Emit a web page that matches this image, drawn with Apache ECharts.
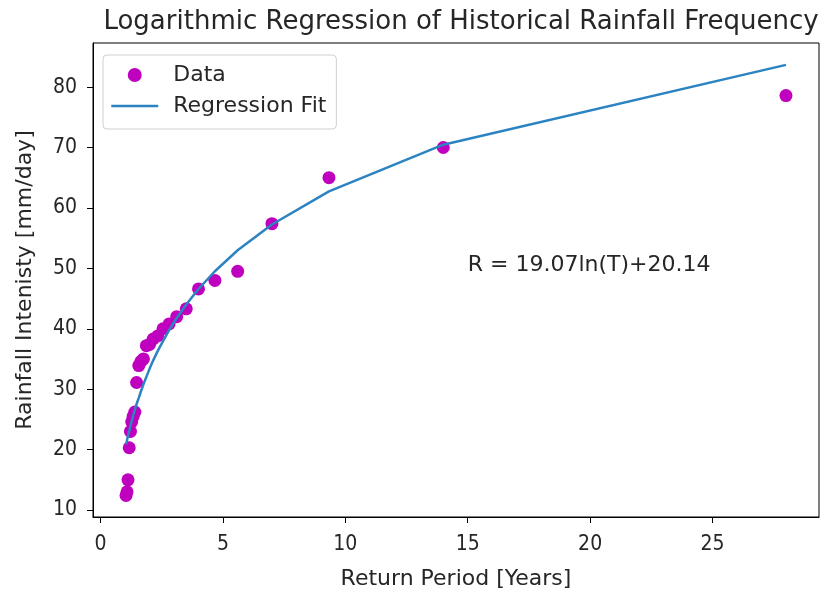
<!DOCTYPE html>
<html>
<head>
<meta charset="utf-8">
<title>Logarithmic Regression</title>
<script src="https://cdn.jsdelivr.net/npm/echarts@6/dist/echarts.min.js"></script>
<style>
  html, body { margin: 0; padding: 0; background: #fff; }
  #chart { width: 821px; height: 590px; }
</style>
</head>
<body>
<div id="chart"></div>
<script>
// return periods T = (n+1)/m, and observed intensities (mm/day)
var returnPeriod = [1.04, 1.08, 1.12, 1.17, 1.22, 1.27, 1.33, 1.40, 1.47, 1.56,
                    1.65, 1.75, 1.87, 2.00, 2.15, 2.33, 2.55, 2.80, 3.11, 3.50,
                    4.00, 4.67, 5.60, 7.00, 9.33, 14.0, 28.0];
var rainfall = [12.4, 13.0, 15.0, 20.3, 23.0, 24.6, 25.5, 26.2, 31.1, 33.9,
                34.6, 35.0, 37.2, 37.4, 38.3, 38.8, 40.0, 40.8, 42.0, 43.3,
                46.6, 48.0, 49.5, 57.4, 65.0, 70.0, 78.6];
// fitted values
var fitted = [20.83, 21.55, 22.30, 23.08, 23.89, 24.74, 25.63, 26.56, 27.54, 28.56,
              29.66, 30.81, 32.04, 33.36, 34.77, 36.30, 37.96, 39.77, 41.78, 44.03,
              46.58, 49.52, 52.99, 57.25, 62.73, 70.47, 83.68];
var xTicks = [0, 5, 10, 15, 20, 25];
var yTicks = [10, 20, 30, 40, 50, 60, 70, 80];
var eqnText = 'R = 19.07ln(T)+20.14';
var eqnPos = [15, 50];

var font = 'DejaVu Sans';
var tickFont = 'DejaVu Sans Condensed';
var ink = '#262626';
var lineColor = '#2b83c2';

var pts = [], fit = [];
for (var i = 0; i < returnPeriod.length; i++) {
  pts.push([returnPeriod[i], rainfall[i]]);
  fit.push([returnPeriod[i], fitted[i]]);
}

var myChart = echarts.init(document.getElementById('chart'));

var option = {
  animation: false,
  title: {
    text: 'Logarithmic Regression of Historical Rainfall Frequency',
    left: 456,
    textAlign: 'center',
    top: 4,
    textStyle: { fontFamily: font, fontSize: 26, fontWeight: 'normal', color: ink }
  },
  legend: {
    orient: 'vertical',
    left: 103,
    top: 55,
    padding: [9, 10, 12, 7],
    itemGap: 9,
    itemWidth: 47,
    itemHeight: 14,
    borderColor: '#d0d0d0',
    borderWidth: 1,
    borderRadius: 4,
    data: [
      { name: 'Data' },
      {
        name: 'Regression Fit',
        itemStyle: { color: 'rgba(0,0,0,0)', borderColor: 'rgba(0,0,0,0)', opacity: 0 },
        lineStyle: { color: lineColor, width: 2.5 }
      }
    ],
    textStyle: { fontFamily: font, fontSize: 22, color: ink, padding: [0, 0, 0, 10] }
  },
  grid: {
    left: 93,
    right: 2,
    top: 43,
    bottom: 73,
    outerBoundsMode: 'none',
    show: true,
    borderColor: '#000',
    borderWidth: 1
  },
  xAxis: {
    type: 'value',
    min: -0.31,
    max: 29.35,
    name: 'Return Period [Years]',
    nameLocation: 'middle',
    nameGap: 51,
    nameTextStyle: { fontFamily: font, fontSize: 22, color: ink },
    splitLine: { show: false },
    axisLine: { show: true, onZero: false, lineStyle: { color: '#000' } },
    axisTick: { show: true, length: 6, customValues: xTicks, lineStyle: { color: '#000' } },
    axisLabel: {
      customValues: xTicks,
      fontFamily: tickFont, fontSize: 21, color: ink, margin: 17
    }
  },
  yAxis: {
    type: 'value',
    min: 8.84,
    max: 87.3,
    name: 'Rainfall Intenisty [mm/day]',
    nameLocation: 'middle',
    nameGap: 57,
    nameTextStyle: { fontFamily: font, fontSize: 22, color: ink },
    splitLine: { show: false },
    axisLine: { show: true, onZero: false, lineStyle: { color: '#000' } },
    axisTick: { show: true, length: 6, customValues: yTicks, lineStyle: { color: '#000' } },
    axisLabel: {
      customValues: yTicks,
      fontFamily: tickFont, fontSize: 21, color: ink, margin: 16
    }
  },
  series: [{
    type: 'scatter',
    name: 'Data',
    data: pts,
    symbol: 'circle',
    symbolSize: 13,
    itemStyle: { color: '#bf00bf', opacity: 1 },
    z: 2
  }, {
    type: 'line',
    name: 'Regression Fit',
    data: fit,
    showSymbol: false,
    symbol: 'none',
    lineStyle: { color: lineColor, width: 2.5 },
    itemStyle: { color: lineColor },
    z: 3
  }, {
    type: 'scatter',
    name: 'eqn',
    data: [eqnPos],
    symbolSize: 0,
    silent: true,
    itemStyle: { opacity: 1 },
    label: {
      show: true,
      position: [0, -3],
      align: 'left',
      verticalAlign: 'middle',
      formatter: eqnText,
      fontFamily: font,
      fontSize: 22,
      color: ink
    },
    z: 4
  }]
};

myChart.setOption(option);
</script>
</body>
</html>
